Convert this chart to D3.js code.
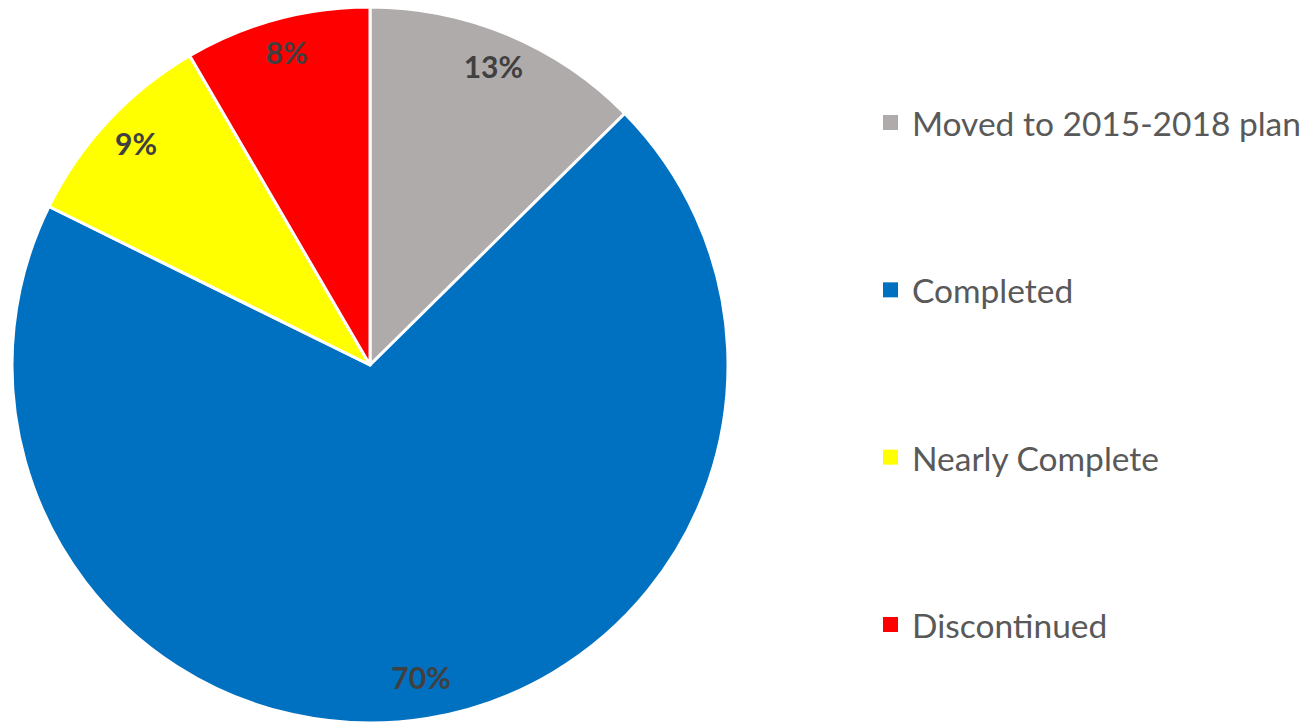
<!DOCTYPE html>
<html>
<head>
<meta charset="utf-8">
<script src="https://cdn.jsdelivr.net/npm/d3@7"></script>
<style>
  html, body { margin: 0; padding: 0; background: #fff; }
  svg { display: block; }
</style>
</head>
<body>
<div id="chart"></div>
<script>
const categories = ['Moved to 2015-2018 plan', 'Completed', 'Nearly Complete', 'Discontinued']
const values = [12.6, 69.7, 9.3, 8.4]
const colors = ['#AFABAB', '#0070C0', '#FFFF00', '#FF0000']

const width = 1308
const height = 722
const cx = 370
const cy = 365
const radius = 358

const svg = d3.select('#chart').append('svg')
  .attr('width', width)
  .attr('height', height)

const data = categories.map((c, i) => ({ name: c, value: values[i], color: colors[i] }))
const total = d3.sum(values)

const pie = d3.pie()
  .value(d => d.value)
  .sort(null)

const arc = d3.arc().innerRadius(0).outerRadius(radius)
const labelArc = d3.arc().innerRadius(320).outerRadius(320)

const g = svg.append('g').attr('transform', `translate(${cx},${cy})`)

const arcs = pie(data)

g.selectAll('path.slice')
  .data(arcs)
  .join('path')
  .attr('class', 'slice')
  .attr('d', arc)
  .attr('fill', d => d.data.color)
  .attr('stroke', '#fff')
  .attr('stroke-width', 3)
  .attr('stroke-linejoin', 'round')

// percentage labels
g.selectAll('text.pct')
  .data(arcs)
  .join('text')
  .attr('class', 'pct')
  .attr('transform', d => `translate(${labelArc.centroid(d)})`)
  .attr('y', -4)
  .attr('text-anchor', 'middle')
  .attr('dominant-baseline', 'central')
  .attr('font-family', 'Lato, sans-serif')
  .attr('font-weight', 'bold')
  .attr('font-size', '30px')
  .attr('fill', '#404040')
  .text(d => Math.round(d.data.value / total * 100) + '%')

// legend
const legendY = d3.scalePoint()
  .domain(categories)
  .range([123, 625])

const legend = svg.append('g')
  .selectAll('g.item')
  .data(data)
  .join('g')
  .attr('class', 'item')
  .attr('transform', d => `translate(883,${legendY(d.name)})`)

legend.append('rect')
  .attr('x', 0)
  .attr('y', -8)
  .attr('width', 15)
  .attr('height', 15)
  .attr('fill', d => d.color)

legend.append('text')
  .attr('x', 29)
  .attr('y', 0)
  .attr('dominant-baseline', 'central')
  .attr('font-family', 'Lato, sans-serif')
  .attr('font-size', '33.5px')
  .attr('fill', '#595959')
  .text(d => d.name)
</script>
</body>
</html>
